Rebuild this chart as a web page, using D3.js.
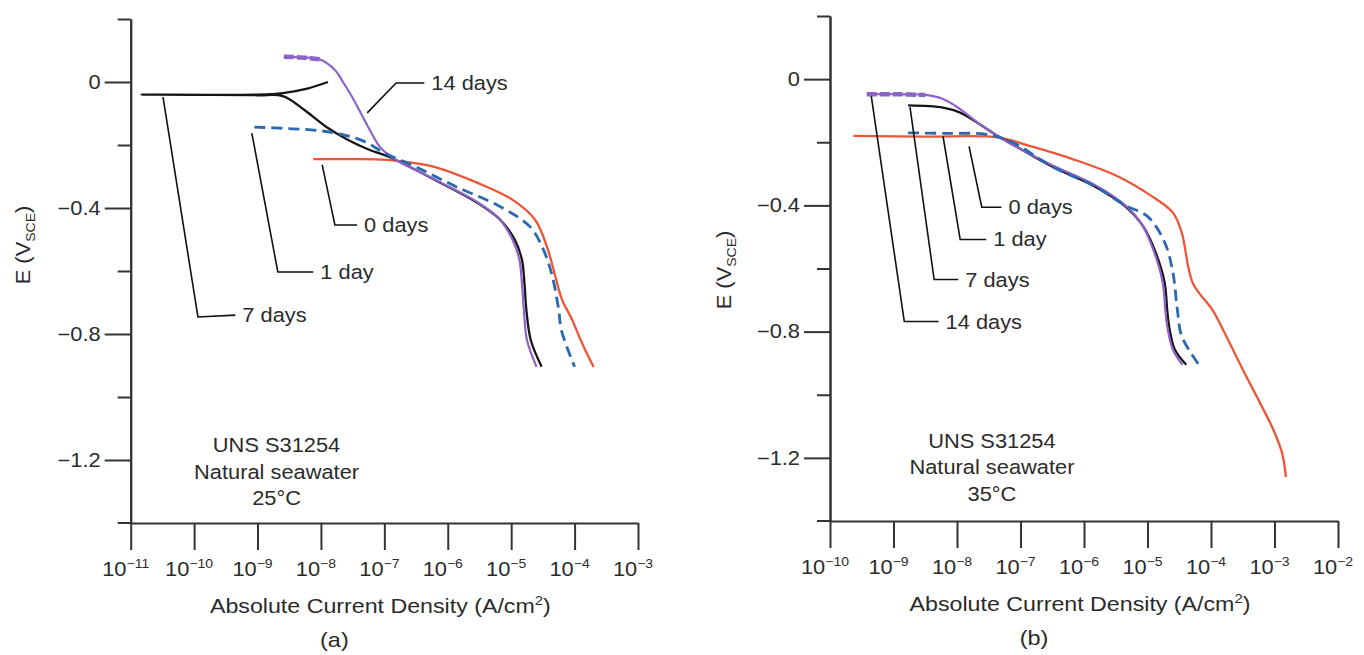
<!DOCTYPE html>
<html>
<head>
<meta charset="utf-8">
<script src="https://cdn.jsdelivr.net/npm/d3@7"></script>
<style>
  html, body { margin: 0; padding: 0; background: #fff; }
  svg { display: block; }
  text { font-family: "Liberation Sans", Arial, Helvetica, sans-serif; fill: #2b2b2b; }
</style>
</head>
<body>
<svg id="chart" width="1364" height="655"></svg>
<script>
// ---- tick values ----
const decadesA = [-11, -10, -9, -8, -7, -6, -5, -4, -3];
const decadesB = [-10, -9, -8, -7, -6, -5, -4, -3, -2];
const potentialLabelled = [0, -0.4, -0.8, -1.2];
const potentialMinor = [0.2, -0.2, -0.6, -1.0];
const potentialDomain = [-1.4, 0.2];

// ---- series: [log10 |i| (A/cm2), E (V_SCE)] ----
// (a) natural seawater, 25 C
const a0days = [[-8.12,-0.245],[-7.5,-0.245],[-6.96,-0.247],[-6.6,-0.255],[-6.2,-0.27],[-5.52,-0.321],
  [-4.97,-0.375],[-4.62,-0.438],[-4.42,-0.533],[-4.3,-0.62],[-4.2,-0.69],[-4.05,-0.75],[-3.88,-0.83],[-3.7,-0.905]];
const a1day = [[-9.05,-0.143],[-8.5,-0.148],[-8.0,-0.155],[-7.6,-0.17],[-7.3,-0.19],[-7.0,-0.225],[-6.5,-0.27],
  [-5.86,-0.333],[-5.17,-0.396],[-4.7,-0.46],[-4.49,-0.533],[-4.35,-0.618],[-4.25,-0.724],[-4.21,-0.787],[-4.0,-0.904]];
const a7days = [[-7.89,0.0],[-8.2,-0.02],[-8.6,-0.035],[-9.0,-0.04],[-10.83,-0.04],[-9.0,-0.042],[-8.6,-0.045],
  [-8.26,-0.089],[-7.92,-0.142],[-7.57,-0.184],[-7.23,-0.216],[-6.96,-0.235],[-6.2,-0.311],[-5.52,-0.385],
  [-5.17,-0.438],[-4.94,-0.502],[-4.83,-0.565],[-4.79,-0.64],[-4.76,-0.724],[-4.69,-0.82],[-4.52,-0.904]];
const a14days = [[-8.585,0.08],[-8.3,0.078],[-8.02,0.072],[-7.78,0.038],[-7.64,-0.004],[-7.51,-0.047],[-7.37,-0.099],
  [-7.23,-0.152],[-7.07,-0.206],[-6.89,-0.238],[-6.2,-0.31],[-5.52,-0.383],[-5.2,-0.432],[-4.98,-0.5],
  [-4.87,-0.565],[-4.83,-0.64],[-4.8,-0.724],[-4.75,-0.82],[-4.6,-0.904]];

// (b) natural seawater, 35 C
const b0days = [[-9.63,-0.18],[-8.5,-0.182],[-7.34,-0.185],[-6.85,-0.212],[-6.17,-0.254],[-5.48,-0.307],[-4.94,-0.37],
  [-4.6,-0.423],[-4.46,-0.487],[-4.36,-0.593],[-4.29,-0.645],[-4.19,-0.677],[-3.98,-0.73],[-3.81,-0.794],
  [-3.5,-0.92],[-3.23,-1.025],[-3.02,-1.11],[-2.88,-1.185],[-2.82,-1.26]];
const b1day = [[-8.77,-0.17],[-8.2,-0.172],[-7.54,-0.175],[-7.13,-0.2],[-6.51,-0.276],[-5.83,-0.34],[-5.35,-0.4],
  [-5.0,-0.435],[-4.73,-0.517],[-4.6,-0.613],[-4.53,-0.73],[-4.46,-0.815],[-4.19,-0.905]];
const b7days = [[-8.77,-0.083],[-8.22,-0.09],[-7.95,-0.106],[-7.68,-0.138],[-7.4,-0.175],[-7.13,-0.206],[-6.51,-0.276],
  [-5.83,-0.34],[-5.35,-0.403],[-5.07,-0.466],[-4.87,-0.55],[-4.73,-0.645],[-4.69,-0.73],[-4.66,-0.783],
  [-4.57,-0.857],[-4.39,-0.905]];
const b14days = [[-9.42,-0.048],[-8.9,-0.048],[-8.5,-0.05],[-8.22,-0.063],[-7.95,-0.095],[-7.68,-0.137],[-7.4,-0.175],
  [-7.2,-0.2],[-6.51,-0.272],[-5.83,-0.335],[-5.35,-0.4],[-5.09,-0.46],[-4.9,-0.545],[-4.76,-0.645],
  [-4.72,-0.73],[-4.69,-0.783],[-4.6,-0.857],[-4.45,-0.905]];

// ---- call-out leaders: three points each, in [log10 |i|, E] ----
const seriesNames = ["0 days", "1 day", "7 days", "14 days"];
const leadersA = [
  [[-7.98,-0.263],[-7.78,-0.454],[-7.43,-0.454]],
  [[-9.09,-0.162],[-8.68,-0.603],[-8.12,-0.603]],
  [[-10.49,-0.048],[-9.94,-0.746],[-9.35,-0.74]],
  [[-7.27,-0.098],[-6.815,-0.003],[-6.37,-0.003]]
];
const leadersB = [
  [[-7.81,-0.213],[-7.61,-0.406],[-7.3,-0.406]],
  [[-8.22,-0.181],[-7.95,-0.508],[-7.54,-0.508]],
  [[-8.74,-0.089],[-8.36,-0.635],[-7.98,-0.635]],
  [[-9.35,-0.054],[-8.83,-0.768],[-8.29,-0.768]]
];
const conditionsA = ["UNS S31254", "Natural seawater", "25°C"];
const conditionsB = ["UNS S31254", "Natural seawater", "35°C"];

const colors = { red: "#ec5636", blue: "#2a68b0", black: "#151515", purple: "#8e63c9", axis: "#333" };
const FS = 19.5;      // text size
const WIDE = 1.12;    // horizontal stretch of the lettering

const svg = d3.select("#chart");

// widen lettering in place, keeping each text's anchor point
function stretch(sel, s) {
  sel.each(function () {
    const t = d3.select(this);
    const x = +t.attr("x") || 0, y = +t.attr("y") || 0;
    const prev = t.attr("transform") || "";
    t.attr("x", 0).attr("y", 0).attr("transform", `${prev} translate(${x},${y}) scale(${s},1)`);
  });
}

function drawPanel(opt) {
  const g = svg.append("g");
  const x = d3.scaleLog()
    .domain([10 ** opt.decades[0], 10 ** opt.decades[opt.decades.length - 1]])
    .range([opt.x0, opt.x1]);
  const y = d3.scaleLinear().domain(potentialDomain).range([opt.yBottom, opt.yTop]);

  // y axis: labelled long ticks
  const yMajor = g.append("g").attr("transform", `translate(${opt.x0},0)`)
    .call(d3.axisLeft(y).tickValues(potentialLabelled).tickSize(26).tickSizeOuter(0).tickPadding(4)
      .tickFormat(d => d === 0 ? "0" : d3.format(".1f")(d).replace("-", "\u2212")));
  // short unlabelled ticks
  const yMinor = g.append("g").attr("transform", `translate(${opt.x0},0)`)
    .call(d3.axisLeft(y).tickValues(potentialMinor).tickSize(13).tickSizeOuter(0).tickFormat(""));
  [yMajor, yMinor].forEach(a => {
    a.select(".domain").attr("stroke", colors.axis).attr("stroke-width", 2);
    a.selectAll(".tick line").attr("stroke", colors.axis).attr("stroke-width", 2);
    a.selectAll(".tick text").attr("font-size", FS).attr("fill", "#2b2b2b")
      .attr("font-family", "Liberation Sans, Arial, sans-serif");
  });
  stretch(yMajor.selectAll(".tick text"), WIDE);

  // x axis with long downward ticks
  const xAxis = g.append("g").attr("transform", `translate(0,${opt.yBottom})`)
    .call(d3.axisBottom(x).tickValues(opt.decades.map(d => 10 ** d)).tickSize(27).tickSizeOuter(0).tickFormat(""));
  xAxis.select(".domain").attr("stroke", colors.axis).attr("stroke-width", 2);
  xAxis.selectAll(".tick line").attr("stroke", colors.axis).attr("stroke-width", 2);
  // axis line runs a little past the y axis
  g.append("line").attr("x1", opt.x0 - 13).attr("x2", opt.x0).attr("y1", opt.yBottom).attr("y2", opt.yBottom)
    .attr("stroke", colors.axis).attr("stroke-width", 2);

  // decade labels 10^n
  opt.decades.forEach(d => {
    const t = g.append("text").attr("x", x(10 ** d) - 5).attr("y", opt.yBottom + 53)
      .attr("text-anchor", "middle").attr("font-size", FS);
    t.append("tspan").text("10");
    t.append("tspan").attr("font-size", 12.5).attr("dy", -8).text("\u2212" + Math.abs(d));
    stretch(t, WIDE);
  });

  // axis titles
  const xt = g.append("text").attr("x", (opt.x0 + opt.x1) / 2 - 4).attr("y", opt.yBottom + 90)
    .attr("text-anchor", "middle").attr("font-size", FS);
  xt.append("tspan").text("Absolute Current Density (A/cm");
  xt.append("tspan").attr("font-size", 12.5).attr("dy", -8).text("2");
  xt.append("tspan").attr("dy", 8).text(")");
  stretch(xt, 1.19);

  const yt = g.append("text").attr("transform", `translate(${opt.yLabelX},${opt.yLabelY}) rotate(-90) scale(${WIDE},1)`)
    .attr("text-anchor", "middle").attr("font-size", FS);
  yt.append("tspan").text("E (V");
  yt.append("tspan").attr("font-size", 12.5).attr("dy", 5).text("SCE");
  yt.append("tspan").attr("dy", -5).text(")");

  const tag = g.append("text").attr("x", (opt.x0 + opt.x1) / 2 - 50).attr("y", opt.yBottom + 124)
    .attr("text-anchor", "middle").attr("font-size", 21).text(opt.tag);
  stretch(tag, WIDE);

  // conditions block
  opt.conditions.forEach((s, i) => {
    const c = g.append("text").attr("x", x(10 ** opt.condLog)).attr("y", y(opt.condE) + i * 26.5)
      .attr("text-anchor", "middle").attr("font-size", FS).text(s);
    stretch(c, WIDE);
  });

  // curves
  const line = d3.line().x(d => x(10 ** d[0])).y(d => y(d[1])).curve(d3.curveCatmullRom.alpha(0.5));
  const draw = (data, color, dash, w) => g.append("path").datum(data).attr("d", line)
    .attr("fill", "none").attr("stroke", color).attr("stroke-width", w)
    .attr("stroke-dasharray", dash).attr("stroke-linejoin", "round");
  draw(opt.s0, colors.red, null, 2.3);
  draw(opt.s7, colors.black, null, 2.3);
  draw(opt.s14, colors.purple, null, 2.2);
  draw(opt.s14.slice(0, opt.purpleFlat), colors.purple, "10,3", 4.5);
  draw(opt.s1, colors.blue, "11,6", 2.8);

  // leaders and names
  const lead = d3.line().x(d => x(10 ** d[0])).y(d => y(d[1]));
  opt.leaders.forEach((pts, i) => {
    g.append("path").attr("d", lead(pts)).attr("fill", "none").attr("stroke", "#111").attr("stroke-width", 1.6);
    const end = pts[pts.length - 1];
    const lbl = g.append("text").attr("x", x(10 ** end[0]) + 7).attr("y", y(end[1]) + 7)
      .attr("font-size", FS).text(seriesNames[i]);
    stretch(lbl, WIDE);
  });
}

drawPanel({
  decades: decadesA, x0: 130.7, x1: 638, yTop: 19, yBottom: 523,
  s0: a0days, s1: a1day, s7: a7days, s14: a14days, purpleFlat: 3,
  leaders: leadersA, conditions: conditionsA, condLog: -8.7, condE: -1.175,
  yLabelX: 30, yLabelY: 245, tag: "(a)"
});
drawPanel({
  decades: decadesB, x0: 830, x1: 1338, yTop: 16, yBottom: 521,
  s0: b0days, s1: b1day, s7: b7days, s14: b14days, purpleFlat: 3,
  leaders: leadersB, conditions: conditionsB, condLog: -7.45, condE: -1.168,
  yLabelX: 731, yLabelY: 270, tag: "(b)"
});
</script>
</body>
</html>
